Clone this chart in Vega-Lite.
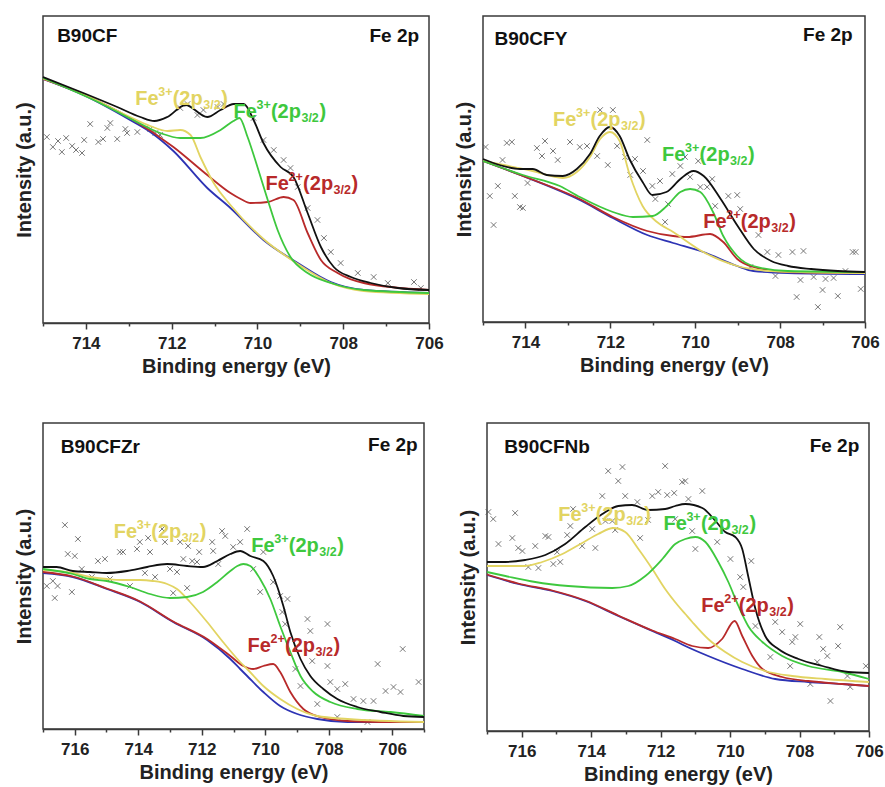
{
"$schema": "https://vega.github.io/schema/vega-lite/v6.json",
"padding": {"left": 13, "top": 15, "right": 5, "bottom": 5},
"background": "white",
"config": {
 "font": "Liberation Sans",
 "view": {"stroke": "#3a3a3a", "strokeWidth": 1.5},
 "axis": {"labelFont": "Liberation Sans", "titleFont": "Liberation Sans", "labelFontWeight": "bold", "titleFontWeight": "bold", "labelFontSize": 17, "titleFontSize": 20, "labelColor": "#222", "titleColor": "#222", "grid": false, "domainColor": "#3a3a3a", "tickColor": "#3a3a3a", "tickWidth": 1.5, "domainWidth": 1.5},
 "text": {"font": "Liberation Sans", "fontWeight": "bold", "align": "left", "baseline": "middle"},
 "style": {
  "aMain": {"fontSize": 20},
  "aSup": {"fontSize": 12.5, "dx": 23, "dy": -7},
  "aPar": {"fontSize": 20, "dx": 37.5},
  "aSub": {"fontSize": 12.5, "dx": 68, "dy": 6},
  "aEnd": {"fontSize": 20, "dx": 86},
  "nm": {"fontSize": 19}
 }
},
"datasets": {
 "lines": [
  {"p":1,"s":"bg","E":715,"I":244},{"p":1,"s":"bg","E":714.06,"I":228},{"p":1,"s":"bg","E":712.97,"I":203},{"p":1,"s":"bg","E":712.5,"I":191},{"p":1,"s":"bg","E":711.96,"I":172},{"p":1,"s":"bg","E":711.17,"I":135},{"p":1,"s":"bg","E":710.63,"I":115},{"p":1,"s":"bg","E":709.86,"I":83},{"p":1,"s":"bg","E":709.06,"I":60},{"p":1,"s":"bg","E":708.29,"I":41},{"p":1,"s":"bg","E":707.52,"I":33},{"p":1,"s":"bg","E":706,"I":30},
  {"p":1,"s":"Fe2","E":715,"I":244},{"p":1,"s":"Fe2","E":714.06,"I":228.5},{"p":1,"s":"Fe2","E":712.97,"I":205},{"p":1,"s":"Fe2","E":711.96,"I":176},{"p":1,"s":"Fe2","E":711.17,"I":148},{"p":1,"s":"Fe2","E":710.63,"I":130},{"p":1,"s":"Fe2","E":710.39,"I":124},{"p":1,"s":"Fe2","E":710.16,"I":120},{"p":1,"s":"Fe2","E":709.76,"I":121},{"p":1,"s":"Fe2","E":709.39,"I":126},{"p":1,"s":"Fe2","E":709.16,"I":123},{"p":1,"s":"Fe2","E":708.83,"I":90},{"p":1,"s":"Fe2","E":708.52,"I":63},{"p":1,"s":"Fe2","E":708.13,"I":50},{"p":1,"s":"Fe2","E":707.52,"I":40},{"p":1,"s":"Fe2","E":706,"I":33},
  {"p":1,"s":"Fe3a","E":715,"I":244.5},{"p":1,"s":"Fe3a","E":714.06,"I":229},{"p":1,"s":"Fe3a","E":712.97,"I":206},{"p":1,"s":"Fe3a","E":712.5,"I":197},{"p":1,"s":"Fe3a","E":712.1,"I":192},{"p":1,"s":"Fe3a","E":711.8,"I":193},{"p":1,"s":"Fe3a","E":711.56,"I":188},{"p":1,"s":"Fe3a","E":711.33,"I":166},{"p":1,"s":"Fe3a","E":711.02,"I":140},{"p":1,"s":"Fe3a","E":710.63,"I":118},{"p":1,"s":"Fe3a","E":709.86,"I":84},{"p":1,"s":"Fe3a","E":709.06,"I":59},{"p":1,"s":"Fe3a","E":708.29,"I":40},{"p":1,"s":"Fe3a","E":707.52,"I":32},{"p":1,"s":"Fe3a","E":706,"I":29},
  {"p":1,"s":"Fe3b","E":715,"I":245},{"p":1,"s":"Fe3b","E":713.67,"I":220},{"p":1,"s":"Fe3b","E":712.9,"I":203},{"p":1,"s":"Fe3b","E":712.27,"I":190},{"p":1,"s":"Fe3b","E":711.8,"I":185},{"p":1,"s":"Fe3b","E":711.33,"I":185},{"p":1,"s":"Fe3b","E":710.86,"I":193},{"p":1,"s":"Fe3b","E":710.56,"I":202},{"p":1,"s":"Fe3b","E":710.42,"I":205},{"p":1,"s":"Fe3b","E":710.23,"I":186},{"p":1,"s":"Fe3b","E":710.0,"I":156},{"p":1,"s":"Fe3b","E":709.76,"I":123},{"p":1,"s":"Fe3b","E":709.53,"I":93},{"p":1,"s":"Fe3b","E":709.23,"I":66},{"p":1,"s":"Fe3b","E":708.83,"I":50},{"p":1,"s":"Fe3b","E":708.29,"I":40},{"p":1,"s":"Fe3b","E":707.52,"I":33},{"p":1,"s":"Fe3b","E":706,"I":30},
  {"p":1,"s":"env","E":715,"I":246},{"p":1,"s":"env","E":714.06,"I":230},{"p":1,"s":"env","E":713.27,"I":216},{"p":1,"s":"env","E":712.73,"I":206},{"p":1,"s":"env","E":712.4,"I":202},{"p":1,"s":"env","E":712.1,"I":206},{"p":1,"s":"env","E":711.68,"I":218},{"p":1,"s":"env","E":711.17,"I":206},{"p":1,"s":"env","E":710.86,"I":213},{"p":1,"s":"env","E":710.55,"I":219},{"p":1,"s":"env","E":710.32,"I":219},{"p":1,"s":"env","E":710.09,"I":203},{"p":1,"s":"env","E":709.86,"I":180},{"p":1,"s":"env","E":709.46,"I":156},{"p":1,"s":"env","E":709.16,"I":146},{"p":1,"s":"env","E":708.83,"I":110},{"p":1,"s":"env","E":708.52,"I":76},{"p":1,"s":"env","E":708.22,"I":56},{"p":1,"s":"env","E":707.82,"I":46},{"p":1,"s":"env","E":707.36,"I":40},{"p":1,"s":"env","E":706.73,"I":35},{"p":1,"s":"env","E":706,"I":33},

  {"p":2,"s":"bg","E":715,"I":161},{"p":2,"s":"bg","E":714.06,"I":146},{"p":2,"s":"bg","E":712.72,"I":122},{"p":2,"s":"bg","E":711.94,"I":104},{"p":2,"s":"bg","E":711.13,"I":87},{"p":2,"s":"bg","E":710.52,"I":79},{"p":2,"s":"bg","E":709.81,"I":70},{"p":2,"s":"bg","E":709.01,"I":56},{"p":2,"s":"bg","E":708.63,"I":51},{"p":2,"s":"bg","E":707.82,"I":49},{"p":2,"s":"bg","E":706,"I":48},
  {"p":2,"s":"Fe2","E":715,"I":161},{"p":2,"s":"Fe2","E":714.06,"I":146},{"p":2,"s":"Fe2","E":712.72,"I":123},{"p":2,"s":"Fe2","E":711.94,"I":105},{"p":2,"s":"Fe2","E":711.13,"I":91},{"p":2,"s":"Fe2","E":710.52,"I":86},{"p":2,"s":"Fe2","E":710.19,"I":85},{"p":2,"s":"Fe2","E":709.65,"I":88},{"p":2,"s":"Fe2","E":709.34,"I":80},{"p":2,"s":"Fe2","E":709.01,"I":63},{"p":2,"s":"Fe2","E":708.63,"I":55},{"p":2,"s":"Fe2","E":707.82,"I":50},{"p":2,"s":"Fe2","E":706,"I":49},
  {"p":2,"s":"Fe3a","E":715,"I":161},{"p":2,"s":"Fe3a","E":713.83,"I":151},{"p":2,"s":"Fe3a","E":713.12,"I":144},{"p":2,"s":"Fe3a","E":712.79,"I":150},{"p":2,"s":"Fe3a","E":712.48,"I":165},{"p":2,"s":"Fe3a","E":712.24,"I":183},{"p":2,"s":"Fe3a","E":712.01,"I":190},{"p":2,"s":"Fe3a","E":711.78,"I":181},{"p":2,"s":"Fe3a","E":711.55,"I":148},{"p":2,"s":"Fe3a","E":711.24,"I":116},{"p":2,"s":"Fe3a","E":710.9,"I":100},{"p":2,"s":"Fe3a","E":710.52,"I":90},{"p":2,"s":"Fe3a","E":709.81,"I":70},{"p":2,"s":"Fe3a","E":709.01,"I":56},{"p":2,"s":"Fe3a","E":708.22,"I":51},{"p":2,"s":"Fe3a","E":707.5,"I":50},{"p":2,"s":"Fe3a","E":706,"I":49},
  {"p":2,"s":"Fe3b","E":715,"I":161},{"p":2,"s":"Fe3b","E":714.06,"I":147},{"p":2,"s":"Fe3b","E":713.19,"I":136},{"p":2,"s":"Fe3b","E":712.72,"I":125},{"p":2,"s":"Fe3b","E":711.94,"I":110},{"p":2,"s":"Fe3b","E":711.47,"I":105},{"p":2,"s":"Fe3b","E":711.0,"I":106},{"p":2,"s":"Fe3b","E":710.67,"I":116},{"p":2,"s":"Fe3b","E":710.35,"I":130},{"p":2,"s":"Fe3b","E":710.12,"I":133},{"p":2,"s":"Fe3b","E":709.88,"I":130},{"p":2,"s":"Fe3b","E":709.58,"I":110},{"p":2,"s":"Fe3b","E":709.34,"I":86},{"p":2,"s":"Fe3b","E":709.01,"I":66},{"p":2,"s":"Fe3b","E":708.63,"I":56},{"p":2,"s":"Fe3b","E":707.82,"I":51},{"p":2,"s":"Fe3b","E":706,"I":50},
  {"p":2,"s":"env","E":715,"I":163},{"p":2,"s":"env","E":714.61,"I":157},{"p":2,"s":"env","E":714.13,"I":153},{"p":2,"s":"env","E":713.83,"I":153},{"p":2,"s":"env","E":713.5,"I":147},{"p":2,"s":"env","E":713.12,"I":146},{"p":2,"s":"env","E":712.79,"I":153},{"p":2,"s":"env","E":712.48,"I":168},{"p":2,"s":"env","E":712.25,"I":186},{"p":2,"s":"env","E":712.01,"I":195},{"p":2,"s":"env","E":711.78,"I":186},{"p":2,"s":"env","E":711.55,"I":163},{"p":2,"s":"env","E":711.24,"I":140},{"p":2,"s":"env","E":711.01,"I":127},{"p":2,"s":"env","E":710.68,"I":130},{"p":2,"s":"env","E":710.35,"I":143},{"p":2,"s":"env","E":710.04,"I":151},{"p":2,"s":"env","E":709.8,"I":146},{"p":2,"s":"env","E":709.4,"I":123},{"p":2,"s":"env","E":709.0,"I":96},{"p":2,"s":"env","E":708.62,"I":73},{"p":2,"s":"env","E":708.21,"I":61},{"p":2,"s":"env","E":707.81,"I":56},{"p":2,"s":"env","E":707.27,"I":53},{"p":2,"s":"env","E":706.64,"I":51},{"p":2,"s":"env","E":706,"I":50},

  {"p":3,"s":"bg","E":717,"I":156},{"p":3,"s":"bg","E":716.06,"I":152},{"p":3,"s":"bg","E":714.99,"I":140},{"p":3,"s":"bg","E":713.94,"I":127},{"p":3,"s":"bg","E":712.9,"I":107},{"p":3,"s":"bg","E":711.83,"I":89},{"p":3,"s":"bg","E":711.1,"I":70},{"p":3,"s":"bg","E":710.79,"I":60},{"p":3,"s":"bg","E":710.57,"I":53},{"p":3,"s":"bg","E":710.06,"I":37},{"p":3,"s":"bg","E":709.53,"I":23},{"p":3,"s":"bg","E":708.99,"I":15},{"p":3,"s":"bg","E":708.36,"I":10},{"p":3,"s":"bg","E":707.41,"I":7},{"p":3,"s":"bg","E":705,"I":7},
  {"p":3,"s":"Fe2","E":717,"I":157},{"p":3,"s":"Fe2","E":716.06,"I":152.5},{"p":3,"s":"Fe2","E":714.99,"I":140.5},{"p":3,"s":"Fe2","E":713.94,"I":127.5},{"p":3,"s":"Fe2","E":712.9,"I":107.5},{"p":3,"s":"Fe2","E":711.83,"I":90},{"p":3,"s":"Fe2","E":711.1,"I":73},{"p":3,"s":"Fe2","E":710.69,"I":63},{"p":3,"s":"Fe2","E":710.38,"I":60},{"p":3,"s":"Fe2","E":710.06,"I":63},{"p":3,"s":"Fe2","E":709.75,"I":65},{"p":3,"s":"Fe2","E":709.53,"I":57},{"p":3,"s":"Fe2","E":709.21,"I":37},{"p":3,"s":"Fe2","E":708.8,"I":20},{"p":3,"s":"Fe2","E":708.26,"I":12},{"p":3,"s":"Fe2","E":707.41,"I":8},{"p":3,"s":"Fe2","E":706.37,"I":7},{"p":3,"s":"Fe2","E":705,"I":7},
  {"p":3,"s":"Fe3a","E":717,"I":159},{"p":3,"s":"Fe3a","E":716.06,"I":156},{"p":3,"s":"Fe3a","E":715.52,"I":152},{"p":3,"s":"Fe3a","E":714.99,"I":150},{"p":3,"s":"Fe3a","E":714.48,"I":149},{"p":3,"s":"Fe3a","E":713.94,"I":149},{"p":3,"s":"Fe3a","E":713.54,"I":148},{"p":3,"s":"Fe3a","E":713.09,"I":145},{"p":3,"s":"Fe3a","E":712.78,"I":140},{"p":3,"s":"Fe3a","E":712.37,"I":127},{"p":3,"s":"Fe3a","E":711.83,"I":107},{"p":3,"s":"Fe3a","E":711.33,"I":87},{"p":3,"s":"Fe3a","E":710.79,"I":67},{"p":3,"s":"Fe3a","E":710.57,"I":60},{"p":3,"s":"Fe3a","E":710.06,"I":43},{"p":3,"s":"Fe3a","E":709.53,"I":30},{"p":3,"s":"Fe3a","E":708.99,"I":20},{"p":3,"s":"Fe3a","E":708.36,"I":13},{"p":3,"s":"Fe3a","E":707.41,"I":10},{"p":3,"s":"Fe3a","E":705,"I":7},
  {"p":3,"s":"Fe3b","E":717,"I":160},{"p":3,"s":"Fe3b","E":716.06,"I":155},{"p":3,"s":"Fe3b","E":715.52,"I":150},{"p":3,"s":"Fe3b","E":714.99,"I":148},{"p":3,"s":"Fe3b","E":714.26,"I":142},{"p":3,"s":"Fe3b","E":713.63,"I":135},{"p":3,"s":"Fe3b","E":713.0,"I":131},{"p":3,"s":"Fe3b","E":712.46,"I":132},{"p":3,"s":"Fe3b","E":711.96,"I":137},{"p":3,"s":"Fe3b","E":711.51,"I":147},{"p":3,"s":"Fe3b","E":711.1,"I":158},{"p":3,"s":"Fe3b","E":710.88,"I":163},{"p":3,"s":"Fe3b","E":710.69,"I":165},{"p":3,"s":"Fe3b","E":710.47,"I":163},{"p":3,"s":"Fe3b","E":710.16,"I":150},{"p":3,"s":"Fe3b","E":709.84,"I":130},{"p":3,"s":"Fe3b","E":709.53,"I":103},{"p":3,"s":"Fe3b","E":709.21,"I":77},{"p":3,"s":"Fe3b","E":708.89,"I":53},{"p":3,"s":"Fe3b","E":708.48,"I":37},{"p":3,"s":"Fe3b","E":707.95,"I":27},{"p":3,"s":"Fe3b","E":707.1,"I":20},{"p":3,"s":"Fe3b","E":706.05,"I":17},{"p":3,"s":"Fe3b","E":705,"I":13},
  {"p":3,"s":"env","E":717,"I":162},{"p":3,"s":"env","E":716.57,"I":162},{"p":3,"s":"env","E":716.06,"I":158},{"p":3,"s":"env","E":715.52,"I":157},{"p":3,"s":"env","E":714.99,"I":156},{"p":3,"s":"env","E":714.35,"I":158},{"p":3,"s":"env","E":713.72,"I":162},{"p":3,"s":"env","E":713.09,"I":165},{"p":3,"s":"env","E":712.46,"I":163},{"p":3,"s":"env","E":711.96,"I":162},{"p":3,"s":"env","E":711.51,"I":168},{"p":3,"s":"env","E":711.1,"I":175},{"p":3,"s":"env","E":710.79,"I":178},{"p":3,"s":"env","E":710.47,"I":173},{"p":3,"s":"env","E":710.06,"I":168},{"p":3,"s":"env","E":709.75,"I":153},{"p":3,"s":"env","E":709.43,"I":123},{"p":3,"s":"env","E":709.21,"I":97},{"p":3,"s":"env","E":708.89,"I":70},{"p":3,"s":"env","E":708.58,"I":53},{"p":3,"s":"env","E":708.17,"I":40},{"p":3,"s":"env","E":707.73,"I":30},{"p":3,"s":"env","E":707.1,"I":22},{"p":3,"s":"env","E":706.37,"I":17},{"p":3,"s":"env","E":705.65,"I":13},{"p":3,"s":"env","E":705,"I":12},

  {"p":4,"s":"bg","E":717,"I":156},{"p":4,"s":"bg","E":716.1,"I":147},{"p":4,"s":"bg","E":715.12,"I":140},{"p":4,"s":"bg","E":714.17,"I":130},{"p":4,"s":"bg","E":713.22,"I":115},{"p":4,"s":"bg","E":712.24,"I":100},{"p":4,"s":"bg","E":711.58,"I":90},{"p":4,"s":"bg","E":711.29,"I":85},{"p":4,"s":"bg","E":710.63,"I":75},{"p":4,"s":"bg","E":709.65,"I":62},{"p":4,"s":"bg","E":708.7,"I":52},{"p":4,"s":"bg","E":707.75,"I":49},{"p":4,"s":"bg","E":706.77,"I":47},{"p":4,"s":"bg","E":706,"I":45},
  {"p":4,"s":"Fe2","E":717,"I":156.5},{"p":4,"s":"Fe2","E":716.1,"I":147.5},{"p":4,"s":"Fe2","E":715.12,"I":140.5},{"p":4,"s":"Fe2","E":714.17,"I":130.5},{"p":4,"s":"Fe2","E":713.22,"I":115.5},{"p":4,"s":"Fe2","E":712.24,"I":100.5},{"p":4,"s":"Fe2","E":711.58,"I":92},{"p":4,"s":"Fe2","E":711.09,"I":85},{"p":4,"s":"Fe2","E":710.63,"I":83},{"p":4,"s":"Fe2","E":710.23,"I":92},{"p":4,"s":"Fe2","E":709.87,"I":110},{"p":4,"s":"Fe2","E":709.65,"I":95},{"p":4,"s":"Fe2","E":709.36,"I":75},{"p":4,"s":"Fe2","E":709.07,"I":62},{"p":4,"s":"Fe2","E":708.5,"I":54},{"p":4,"s":"Fe2","E":707.75,"I":50},{"p":4,"s":"Fe2","E":706.77,"I":47},{"p":4,"s":"Fe2","E":706,"I":45},
  {"p":4,"s":"Fe3a","E":717,"I":165},{"p":4,"s":"Fe3a","E":715.9,"I":165},{"p":4,"s":"Fe3a","E":715.41,"I":169},{"p":4,"s":"Fe3a","E":714.83,"I":177},{"p":4,"s":"Fe3a","E":714.26,"I":188},{"p":4,"s":"Fe3a","E":713.8,"I":197},{"p":4,"s":"Fe3a","E":713.36,"I":203},{"p":4,"s":"Fe3a","E":713.02,"I":199},{"p":4,"s":"Fe3a","E":712.64,"I":182},{"p":4,"s":"Fe3a","E":712.24,"I":162},{"p":4,"s":"Fe3a","E":711.87,"I":142},{"p":4,"s":"Fe3a","E":711.49,"I":125},{"p":4,"s":"Fe3a","E":711.29,"I":117},{"p":4,"s":"Fe3a","E":711.09,"I":109},{"p":4,"s":"Fe3a","E":710.63,"I":92},{"p":4,"s":"Fe3a","E":710.14,"I":79},{"p":4,"s":"Fe3a","E":709.65,"I":69},{"p":4,"s":"Fe3a","E":708.99,"I":60},{"p":4,"s":"Fe3a","E":708.21,"I":55},{"p":4,"s":"Fe3a","E":707.26,"I":52},{"p":4,"s":"Fe3a","E":706,"I":49},
  {"p":4,"s":"Fe3b","E":717,"I":159},{"p":4,"s":"Fe3b","E":716.47,"I":155},{"p":4,"s":"Fe3b","E":715.61,"I":149},{"p":4,"s":"Fe3b","E":714.66,"I":145},{"p":4,"s":"Fe3b","E":713.39,"I":143},{"p":4,"s":"Fe3b","E":712.93,"I":145},{"p":4,"s":"Fe3b","E":712.44,"I":155},{"p":4,"s":"Fe3b","E":711.95,"I":172},{"p":4,"s":"Fe3b","E":711.58,"I":187},{"p":4,"s":"Fe3b","E":711.29,"I":192},{"p":4,"s":"Fe3b","E":711.0,"I":194},{"p":4,"s":"Fe3b","E":710.71,"I":189},{"p":4,"s":"Fe3b","E":710.34,"I":169},{"p":4,"s":"Fe3b","E":710.05,"I":149},{"p":4,"s":"Fe3b","E":709.76,"I":125},{"p":4,"s":"Fe3b","E":709.48,"I":105},{"p":4,"s":"Fe3b","E":709.07,"I":89},{"p":4,"s":"Fe3b","E":708.5,"I":75},{"p":4,"s":"Fe3b","E":707.75,"I":65},{"p":4,"s":"Fe3b","E":706.77,"I":59},{"p":4,"s":"Fe3b","E":706,"I":52},
  {"p":4,"s":"env","E":717,"I":169},{"p":4,"s":"env","E":716.47,"I":169},{"p":4,"s":"env","E":715.9,"I":171},{"p":4,"s":"env","E":715.32,"I":176},{"p":4,"s":"env","E":714.75,"I":187},{"p":4,"s":"env","E":714.17,"I":204},{"p":4,"s":"env","E":713.68,"I":217},{"p":4,"s":"env","E":713.22,"I":225},{"p":4,"s":"env","E":712.82,"I":226},{"p":4,"s":"env","E":712.36,"I":221},{"p":4,"s":"env","E":711.87,"I":222},{"p":4,"s":"env","E":711.58,"I":225},{"p":4,"s":"env","E":711.29,"I":227},{"p":4,"s":"env","E":710.8,"I":223},{"p":4,"s":"env","E":710.42,"I":210},{"p":4,"s":"env","E":710.14,"I":199},{"p":4,"s":"env","E":709.85,"I":194},{"p":4,"s":"env","E":709.65,"I":182},{"p":4,"s":"env","E":709.48,"I":155},{"p":4,"s":"env","E":709.27,"I":122},{"p":4,"s":"env","E":708.99,"I":95},{"p":4,"s":"env","E":708.61,"I":82},{"p":4,"s":"env","E":708.03,"I":72},{"p":4,"s":"env","E":707.34,"I":65},{"p":4,"s":"env","E":706.6,"I":59},{"p":4,"s":"env","E":706,"I":58}
 ],
 "pts": [
  {"p":1,"E":714.91,"I":186},{"p":1,"E":714.77,"I":176},{"p":1,"E":714.65,"I":182},{"p":1,"E":714.56,"I":171},{"p":1,"E":714.46,"I":185},{"p":1,"E":714.32,"I":177},{"p":1,"E":714.23,"I":173},{"p":1,"E":714.09,"I":170},{"p":1,"E":714.04,"I":183},{"p":1,"E":713.9,"I":199},{"p":1,"E":713.71,"I":181},{"p":1,"E":713.6,"I":184},{"p":1,"E":713.5,"I":195},{"p":1,"E":713.43,"I":200},{"p":1,"E":713.27,"I":184},{"p":1,"E":713.08,"I":194},{"p":1,"E":713.04,"I":190},{"p":1,"E":712.8,"I":191},{"p":1,"E":712.5,"I":194},{"p":1,"E":712.38,"I":190},{"p":1,"E":712.27,"I":188},{"p":1,"E":711.8,"I":215},{"p":1,"E":711.63,"I":219},{"p":1,"E":711.4,"I":208},{"p":1,"E":711.26,"I":213},{"p":1,"E":710.93,"I":216},{"p":1,"E":710.79,"I":219},{"p":1,"E":710.09,"I":205},{"p":1,"E":709.86,"I":183},{"p":1,"E":709.62,"I":173},{"p":1,"E":709.39,"I":163},{"p":1,"E":709.23,"I":155},{"p":1,"E":709.06,"I":136},{"p":1,"E":708.83,"I":115},{"p":1,"E":708.6,"I":103},{"p":1,"E":708.45,"I":85},{"p":1,"E":708.29,"I":71},{"p":1,"E":708.06,"I":60},{"p":1,"E":707.66,"I":50},{"p":1,"E":707.29,"I":46},{"p":1,"E":706.96,"I":40},{"p":1,"E":706.35,"I":41},{"p":1,"E":706.19,"I":35},
  {"p":2,"E":714.94,"I":175},{"p":2,"E":714.44,"I":179},{"p":2,"E":714.32,"I":180},{"p":2,"E":714.54,"I":162},{"p":2,"E":714.65,"I":136},{"p":2,"E":714.84,"I":126},{"p":2,"E":714.25,"I":126},{"p":2,"E":714.13,"I":115},{"p":2,"E":714.06,"I":114},{"p":2,"E":714.75,"I":97},{"p":2,"E":713.95,"I":139},{"p":2,"E":713.73,"I":174},{"p":2,"E":713.54,"I":181},{"p":2,"E":713.35,"I":171},{"p":2,"E":713.24,"I":162},{"p":2,"E":713.61,"I":166},{"p":2,"E":712.95,"I":180},{"p":2,"E":712.72,"I":175},{"p":2,"E":712.55,"I":176},{"p":2,"E":712.31,"I":166},{"p":2,"E":712.24,"I":212},{"p":2,"E":711.94,"I":212},{"p":2,"E":712.06,"I":157},{"p":2,"E":711.84,"I":176},{"p":2,"E":711.65,"I":165},{"p":2,"E":711.42,"I":163},{"p":2,"E":711.53,"I":147},{"p":2,"E":711.23,"I":151},{"p":2,"E":711.13,"I":182},{"p":2,"E":711.01,"I":136},{"p":2,"E":710.83,"I":141},{"p":2,"E":710.94,"I":123},{"p":2,"E":710.64,"I":118},{"p":2,"E":710.71,"I":100},{"p":2,"E":710.54,"I":148},{"p":2,"E":710.35,"I":156},{"p":2,"E":710.24,"I":165},{"p":2,"E":709.93,"I":161},{"p":2,"E":710.12,"I":145},{"p":2,"E":709.88,"I":135},{"p":2,"E":709.72,"I":135},{"p":2,"E":709.6,"I":143},{"p":2,"E":709.53,"I":116},{"p":2,"E":709.22,"I":126},{"p":2,"E":709.01,"I":127},{"p":2,"E":708.94,"I":113},{"p":2,"E":708.51,"I":87},{"p":2,"E":708.3,"I":70},{"p":2,"E":708.04,"I":67},{"p":2,"E":707.71,"I":70},{"p":2,"E":707.45,"I":71},{"p":2,"E":708.7,"I":55},{"p":2,"E":708.11,"I":46},{"p":2,"E":707.52,"I":42},{"p":2,"E":707.21,"I":45},{"p":2,"E":706.93,"I":43},{"p":2,"E":706.74,"I":44},{"p":2,"E":707.0,"I":32},{"p":2,"E":707.61,"I":25},{"p":2,"E":707.11,"I":15},{"p":2,"E":706.64,"I":26},{"p":2,"E":706.29,"I":70},{"p":2,"E":706.22,"I":70},{"p":2,"E":706.1,"I":33},{"p":2,"E":706.46,"I":51},
  {"p":3,"E":716.88,"I":143},{"p":3,"E":716.69,"I":148},{"p":3,"E":716.54,"I":143},{"p":3,"E":716.63,"I":131},{"p":3,"E":716.31,"I":204},{"p":3,"E":716.22,"I":175},{"p":3,"E":716.09,"I":137},{"p":3,"E":716.0,"I":173},{"p":3,"E":715.9,"I":190},{"p":3,"E":715.78,"I":160},{"p":3,"E":715.46,"I":152},{"p":3,"E":715.27,"I":168},{"p":3,"E":715.05,"I":170},{"p":3,"E":714.89,"I":150},{"p":3,"E":714.58,"I":177},{"p":3,"E":714.48,"I":177},{"p":3,"E":714.26,"I":143},{"p":3,"E":714.04,"I":180},{"p":3,"E":713.95,"I":187},{"p":3,"E":713.79,"I":156},{"p":3,"E":713.69,"I":191},{"p":3,"E":713.63,"I":177},{"p":3,"E":713.47,"I":152},{"p":3,"E":713.25,"I":200},{"p":3,"E":713.16,"I":187},{"p":3,"E":713.0,"I":160},{"p":3,"E":712.9,"I":136},{"p":3,"E":712.78,"I":157},{"p":3,"E":712.68,"I":187},{"p":3,"E":712.58,"I":170},{"p":3,"E":712.46,"I":141},{"p":3,"E":712.43,"I":183},{"p":3,"E":712.3,"I":168},{"p":3,"E":712.15,"I":167},{"p":3,"E":712.08,"I":177},{"p":3,"E":711.67,"I":187},{"p":3,"E":711.64,"I":178},{"p":3,"E":711.48,"I":165},{"p":3,"E":711.36,"I":198},{"p":3,"E":711.26,"I":193},{"p":3,"E":711.01,"I":182},{"p":3,"E":710.79,"I":187},{"p":3,"E":710.57,"I":200},{"p":3,"E":710.38,"I":160},{"p":3,"E":710.16,"I":137},{"p":3,"E":710.06,"I":177},{"p":3,"E":709.75,"I":147},{"p":3,"E":709.53,"I":133},{"p":3,"E":709.46,"I":117},{"p":3,"E":709.37,"I":105},{"p":3,"E":709.3,"I":130},{"p":3,"E":709.05,"I":60},{"p":3,"E":708.89,"I":43},{"p":3,"E":708.67,"I":110},{"p":3,"E":708.58,"I":98},{"p":3,"E":708.52,"I":68},{"p":3,"E":708.36,"I":25},{"p":3,"E":708.04,"I":105},{"p":3,"E":708.04,"I":63},{"p":3,"E":707.95,"I":47},{"p":3,"E":707.73,"I":40},{"p":3,"E":707.73,"I":12},{"p":3,"E":707.48,"I":45},{"p":3,"E":707.22,"I":30},{"p":3,"E":706.91,"I":28},{"p":3,"E":706.78,"I":7},{"p":3,"E":706.59,"I":28},{"p":3,"E":706.46,"I":65},{"p":3,"E":706.21,"I":38},{"p":3,"E":705.96,"I":42},{"p":3,"E":705.74,"I":37},{"p":3,"E":705.67,"I":80},{"p":3,"E":705.17,"I":47},
  {"p":4,"E":716.96,"I":219},{"p":4,"E":716.82,"I":212},{"p":4,"E":716.67,"I":187},{"p":4,"E":716.19,"I":218},{"p":4,"E":716.27,"I":193},{"p":4,"E":716.1,"I":183},{"p":4,"E":715.98,"I":180},{"p":4,"E":715.61,"I":185},{"p":4,"E":715.81,"I":164},{"p":4,"E":715.52,"I":163},{"p":4,"E":715.32,"I":195},{"p":4,"E":715.23,"I":194},{"p":4,"E":715.09,"I":167},{"p":4,"E":714.89,"I":169},{"p":4,"E":714.98,"I":179},{"p":4,"E":714.69,"I":196},{"p":4,"E":714.6,"I":205},{"p":4,"E":714.52,"I":222},{"p":4,"E":714.26,"I":185},{"p":4,"E":713.97,"I":202},{"p":4,"E":713.88,"I":183},{"p":4,"E":713.68,"I":235},{"p":4,"E":713.59,"I":210},{"p":4,"E":713.51,"I":260},{"p":4,"E":713.22,"I":250},{"p":4,"E":713.1,"I":264},{"p":4,"E":713.39,"I":210},{"p":4,"E":713.31,"I":201},{"p":4,"E":713.02,"I":235},{"p":4,"E":712.67,"I":229},{"p":4,"E":712.59,"I":193},{"p":4,"E":712.36,"I":211},{"p":4,"E":712.24,"I":235},{"p":4,"E":712.07,"I":239},{"p":4,"E":711.87,"I":265},{"p":4,"E":711.81,"I":236},{"p":4,"E":711.61,"I":238},{"p":4,"E":711.38,"I":249},{"p":4,"E":711.58,"I":212},{"p":4,"E":711.29,"I":250},{"p":4,"E":711.2,"I":232},{"p":4,"E":710.8,"I":240},{"p":4,"E":711.09,"I":200},{"p":4,"E":711.0,"I":182},{"p":4,"E":710.37,"I":189},{"p":4,"E":709.99,"I":172},{"p":4,"E":709.39,"I":170},{"p":4,"E":709.71,"I":154},{"p":4,"E":709.62,"I":144},{"p":4,"E":709.27,"I":105},{"p":4,"E":708.7,"I":109},{"p":4,"E":708.5,"I":99},{"p":4,"E":708.21,"I":89},{"p":4,"E":708.12,"I":94},{"p":4,"E":707.98,"I":107},{"p":4,"E":708.84,"I":74},{"p":4,"E":708.27,"I":65},{"p":4,"E":707.43,"I":94},{"p":4,"E":707.32,"I":82},{"p":4,"E":707.2,"I":75},{"p":4,"E":706.89,"I":85},{"p":4,"E":706.83,"I":104},{"p":4,"E":707.49,"I":69},{"p":4,"E":706.62,"I":55},{"p":4,"E":706.54,"I":44},{"p":4,"E":707.11,"I":30},{"p":4,"E":706.09,"I":65},{"p":4,"E":707.69,"I":47}
 ],
 "ann": [
  {"p":1,"s":"Fe3a","q":"3+","E":712.85,"I":224},{"p":1,"s":"Fe3b","q":"3+","E":710.56,"I":211},{"p":1,"s":"Fe2","q":"2+","E":709.81,"I":139},
  {"p":2,"s":"Fe3a","q":"3+","E":713.35,"I":202},{"p":2,"s":"Fe3b","q":"3+","E":710.78,"I":167},{"p":2,"s":"Fe2","q":"2+","E":709.81,"I":100},
  {"p":3,"s":"Fe3a","q":"3+","E":714.77,"I":197},{"p":3,"s":"Fe3b","q":"3+","E":710.44,"I":183},{"p":3,"s":"Fe2","q":"2+","E":710.56,"I":83},
  {"p":4,"s":"Fe3a","q":"3+","E":714.95,"I":216},{"p":4,"s":"Fe3b","q":"3+","E":711.92,"I":207},{"p":4,"s":"Fe2","q":"2+","E":710.83,"I":125}
 ],
 "names": [
  {"p":1,"t":"B90CF","E":714.67,"I":287.5},{"p":2,"t":"B90CFY","E":714.73,"I":283},{"p":3,"t":"B90CFZr","E":716.44,"I":282.5},{"p":4,"t":"B90CFNb","E":716.5,"I":284.5}
 ],
 "tags": [
  {"p":1,"t":"Fe 2p","E":706.23,"I":287},{"p":2,"t":"Fe 2p","E":706.29,"I":287},{"p":3,"t":"Fe 2p","E":705.2,"I":284},{"p":4,"t":"Fe 2p","E":706.28,"I":285}
 ]
},
"spacing": 45,
"vconcat": [
 {"bounds": "flush", "spacing": 54, "hconcat": [
  {"width": 386, "height": 307,
   "encoding": {
    "x": {"field": "E", "type": "quantitative", "title": "Binding energy (eV)", "scale": {"domain": [706, 715], "reverse": true, "nice": false, "zero": false}, "axis": {"values": [706,707,708,709,710,711,712,713,714,715], "labelExpr": "datum.value % 2 === 0 ? datum.label : ''", "tickSize": {"condition": {"test": "datum.value % 2 !== 0", "value": 3}, "value": 6}, "labelFlush": false, "labelOverlap": false, "labelPadding": 6, "titlePadding": 5}},
    "y": {"field": "I", "type": "quantitative", "title": "Intensity (a.u.)", "scale": {"domain": [0, 307], "nice": false, "zero": false}, "axis": {"labels": false, "ticks": false, "domain": false, "titlePadding": 9}},
    "color": {"field": "s", "type": "nominal", "scale": {"domain": ["bg","Fe2","Fe3a","Fe3b","env"], "range": ["#2d33b4","#b82a2a","#e2d462","#3ec83e","#111111"]}, "legend": null}
   },
   "layer": [
    {"data": {"name": "pts"}, "transform": [{"filter": "datum.p == 1"}], "mark": {"type": "point", "shape": "M-1,-1L1,1M1,-1L-1,1", "size": 30, "filled": false, "strokeWidth": 1, "opacity": 0.8}, "encoding": {"color": {"value": "#555555"}}},
    {"data": {"name": "lines"}, "transform": [{"filter": "datum.p == 1"}], "mark": {"type": "line", "interpolate": "monotone", "strokeWidth": 1.8}},
    {"data": {"name": "ann"}, "transform": [{"filter": "datum.p == 1"}], "mark": {"type": "text", "style": "aMain"}, "encoding": {"text": {"value": "Fe"}}},
    {"data": {"name": "ann"}, "transform": [{"filter": "datum.p == 1"}], "mark": {"type": "text", "style": "aSup"}, "encoding": {"text": {"field": "q"}}},
    {"data": {"name": "ann"}, "transform": [{"filter": "datum.p == 1"}], "mark": {"type": "text", "style": "aPar"}, "encoding": {"text": {"value": "(2p"}}},
    {"data": {"name": "ann"}, "transform": [{"filter": "datum.p == 1"}], "mark": {"type": "text", "style": "aSub"}, "encoding": {"text": {"value": "3/2"}}},
    {"data": {"name": "ann"}, "transform": [{"filter": "datum.p == 1"}], "mark": {"type": "text", "style": "aEnd"}, "encoding": {"text": {"value": ")"}}},
    {"data": {"name": "names"}, "transform": [{"filter": "datum.p == 1"}], "mark": {"type": "text", "style": "nm"}, "encoding": {"text": {"field": "t"}, "color": {"value": "#111111"}}},
    {"data": {"name": "tags"}, "transform": [{"filter": "datum.p == 1"}], "mark": {"type": "text", "style": "nm", "align": "right"}, "encoding": {"text": {"field": "t"}, "color": {"value": "#111111"}}}
   ]},
  {"width": 382, "height": 306,
   "encoding": {
    "x": {"field": "E", "type": "quantitative", "title": "Binding energy (eV)", "scale": {"domain": [706, 715], "reverse": true, "nice": false, "zero": false}, "axis": {"values": [706,707,708,709,710,711,712,713,714,715], "labelExpr": "datum.value % 2 === 0 ? datum.label : ''", "tickSize": {"condition": {"test": "datum.value % 2 !== 0", "value": 3}, "value": 6}, "labelFlush": false, "labelOverlap": false, "labelPadding": 6, "titlePadding": 5}},
    "y": {"field": "I", "type": "quantitative", "title": "Intensity (a.u.)", "scale": {"domain": [0, 306], "nice": false, "zero": false}, "axis": {"labels": false, "ticks": false, "domain": false, "titlePadding": 9}},
    "color": {"field": "s", "type": "nominal", "scale": {"domain": ["bg","Fe2","Fe3a","Fe3b","env"], "range": ["#2d33b4","#b82a2a","#e2d462","#3ec83e","#111111"]}, "legend": null}
   },
   "layer": [
    {"data": {"name": "pts"}, "transform": [{"filter": "datum.p == 2"}], "mark": {"type": "point", "shape": "M-1,-1L1,1M1,-1L-1,1", "size": 30, "filled": false, "strokeWidth": 1, "opacity": 0.8}, "encoding": {"color": {"value": "#555555"}}},
    {"data": {"name": "lines"}, "transform": [{"filter": "datum.p == 2"}], "mark": {"type": "line", "interpolate": "monotone", "strokeWidth": 1.8}},
    {"data": {"name": "ann"}, "transform": [{"filter": "datum.p == 2"}], "mark": {"type": "text", "style": "aMain"}, "encoding": {"text": {"value": "Fe"}}},
    {"data": {"name": "ann"}, "transform": [{"filter": "datum.p == 2"}], "mark": {"type": "text", "style": "aSup"}, "encoding": {"text": {"field": "q"}}},
    {"data": {"name": "ann"}, "transform": [{"filter": "datum.p == 2"}], "mark": {"type": "text", "style": "aPar"}, "encoding": {"text": {"value": "(2p"}}},
    {"data": {"name": "ann"}, "transform": [{"filter": "datum.p == 2"}], "mark": {"type": "text", "style": "aSub"}, "encoding": {"text": {"value": "3/2"}}},
    {"data": {"name": "ann"}, "transform": [{"filter": "datum.p == 2"}], "mark": {"type": "text", "style": "aEnd"}, "encoding": {"text": {"value": ")"}}},
    {"data": {"name": "names"}, "transform": [{"filter": "datum.p == 2"}], "mark": {"type": "text", "style": "nm"}, "encoding": {"text": {"field": "t"}, "color": {"value": "#111111"}}},
    {"data": {"name": "tags"}, "transform": [{"filter": "datum.p == 2"}], "mark": {"type": "text", "style": "nm", "align": "right"}, "encoding": {"text": {"field": "t"}, "color": {"value": "#111111"}}}
   ]}
 ]},
 {"bounds": "flush", "spacing": 63, "hconcat": [
  {"width": 381, "height": 306,
   "encoding": {
    "x": {"field": "E", "type": "quantitative", "title": "Binding energy (eV)", "scale": {"domain": [705, 717], "reverse": true, "nice": false, "zero": false}, "axis": {"values": [705,706,707,708,709,710,711,712,713,714,715,716,717], "labelExpr": "datum.value % 2 === 0 ? datum.label : ''", "tickSize": {"condition": {"test": "datum.value % 2 !== 0", "value": 3}, "value": 6}, "labelFlush": false, "labelOverlap": false, "labelPadding": 6, "titlePadding": 5}},
    "y": {"field": "I", "type": "quantitative", "title": "Intensity (a.u.)", "scale": {"domain": [0, 306], "nice": false, "zero": false}, "axis": {"labels": false, "ticks": false, "domain": false, "titlePadding": 9}},
    "color": {"field": "s", "type": "nominal", "scale": {"domain": ["bg","Fe2","Fe3a","Fe3b","env"], "range": ["#2d33b4","#b82a2a","#e2d462","#3ec83e","#111111"]}, "legend": null}
   },
   "layer": [
    {"data": {"name": "pts"}, "transform": [{"filter": "datum.p == 3"}], "mark": {"type": "point", "shape": "M-1,-1L1,1M1,-1L-1,1", "size": 30, "filled": false, "strokeWidth": 1, "opacity": 0.8}, "encoding": {"color": {"value": "#555555"}}},
    {"data": {"name": "lines"}, "transform": [{"filter": "datum.p == 3"}], "mark": {"type": "line", "interpolate": "monotone", "strokeWidth": 1.8}},
    {"data": {"name": "ann"}, "transform": [{"filter": "datum.p == 3"}], "mark": {"type": "text", "style": "aMain"}, "encoding": {"text": {"value": "Fe"}}},
    {"data": {"name": "ann"}, "transform": [{"filter": "datum.p == 3"}], "mark": {"type": "text", "style": "aSup"}, "encoding": {"text": {"field": "q"}}},
    {"data": {"name": "ann"}, "transform": [{"filter": "datum.p == 3"}], "mark": {"type": "text", "style": "aPar"}, "encoding": {"text": {"value": "(2p"}}},
    {"data": {"name": "ann"}, "transform": [{"filter": "datum.p == 3"}], "mark": {"type": "text", "style": "aSub"}, "encoding": {"text": {"value": "3/2"}}},
    {"data": {"name": "ann"}, "transform": [{"filter": "datum.p == 3"}], "mark": {"type": "text", "style": "aEnd"}, "encoding": {"text": {"value": ")"}}},
    {"data": {"name": "names"}, "transform": [{"filter": "datum.p == 3"}], "mark": {"type": "text", "style": "nm"}, "encoding": {"text": {"field": "t"}, "color": {"value": "#111111"}}},
    {"data": {"name": "tags"}, "transform": [{"filter": "datum.p == 3"}], "mark": {"type": "text", "style": "nm", "align": "right"}, "encoding": {"text": {"field": "t"}, "color": {"value": "#111111"}}}
   ]},
  {"width": 382, "height": 308,
   "encoding": {
    "x": {"field": "E", "type": "quantitative", "title": "Binding energy (eV)", "scale": {"domain": [706, 717], "reverse": true, "nice": false, "zero": false}, "axis": {"values": [706,707,708,709,710,711,712,713,714,715,716,717], "labelExpr": "datum.value % 2 === 0 ? datum.label : ''", "tickSize": {"condition": {"test": "datum.value % 2 !== 0", "value": 3}, "value": 6}, "labelFlush": false, "labelOverlap": false, "labelPadding": 6, "titlePadding": 5}},
    "y": {"field": "I", "type": "quantitative", "title": "Intensity (a.u.)", "scale": {"domain": [0, 308], "nice": false, "zero": false}, "axis": {"labels": false, "ticks": false, "domain": false, "titlePadding": 9}},
    "color": {"field": "s", "type": "nominal", "scale": {"domain": ["bg","Fe2","Fe3a","Fe3b","env"], "range": ["#2d33b4","#b82a2a","#e2d462","#3ec83e","#111111"]}, "legend": null}
   },
   "layer": [
    {"data": {"name": "pts"}, "transform": [{"filter": "datum.p == 4"}], "mark": {"type": "point", "shape": "M-1,-1L1,1M1,-1L-1,1", "size": 30, "filled": false, "strokeWidth": 1, "opacity": 0.8}, "encoding": {"color": {"value": "#555555"}}},
    {"data": {"name": "lines"}, "transform": [{"filter": "datum.p == 4"}], "mark": {"type": "line", "interpolate": "monotone", "strokeWidth": 1.8}},
    {"data": {"name": "ann"}, "transform": [{"filter": "datum.p == 4"}], "mark": {"type": "text", "style": "aMain"}, "encoding": {"text": {"value": "Fe"}}},
    {"data": {"name": "ann"}, "transform": [{"filter": "datum.p == 4"}], "mark": {"type": "text", "style": "aSup"}, "encoding": {"text": {"field": "q"}}},
    {"data": {"name": "ann"}, "transform": [{"filter": "datum.p == 4"}], "mark": {"type": "text", "style": "aPar"}, "encoding": {"text": {"value": "(2p"}}},
    {"data": {"name": "ann"}, "transform": [{"filter": "datum.p == 4"}], "mark": {"type": "text", "style": "aSub"}, "encoding": {"text": {"value": "3/2"}}},
    {"data": {"name": "ann"}, "transform": [{"filter": "datum.p == 4"}], "mark": {"type": "text", "style": "aEnd"}, "encoding": {"text": {"value": ")"}}},
    {"data": {"name": "names"}, "transform": [{"filter": "datum.p == 4"}], "mark": {"type": "text", "style": "nm"}, "encoding": {"text": {"field": "t"}, "color": {"value": "#111111"}}},
    {"data": {"name": "tags"}, "transform": [{"filter": "datum.p == 4"}], "mark": {"type": "text", "style": "nm", "align": "right"}, "encoding": {"text": {"field": "t"}, "color": {"value": "#111111"}}}
   ]}
 ]}
]
}
